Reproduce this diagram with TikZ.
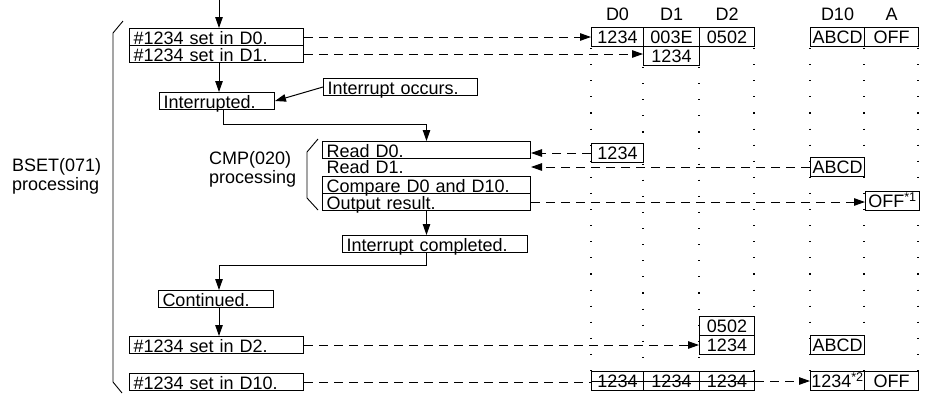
\documentclass[tikz,border=0pt]{standalone}
\usepackage{fontspec}
\setmainfont{Liberation Sans}
\usetikzlibrary{arrows.meta, positioning}

\begin{document}
\begin{tikzpicture}[
    x=1pt, y=-1pt,
    font=\fontsize{18}{19}\selectfont,
    >={Triangle[length=11pt, width=7.5pt]},
    stepbox/.style={draw, line width=1pt, anchor=north west, inner xsep=4pt, inner ysep=1pt, minimum height=17pt, text height=14pt, text depth=0pt, align=left, text width=#1},
    cell/.style={draw, line width=1pt, fill=white, anchor=north west, inner sep=0pt, minimum width=#1, minimum height=19pt, text height=13pt, text depth=0pt},
    cell/.default=52pt,
    hdr/.style={inner sep=0pt, text depth=0pt},
    side/.style={inner sep=0pt, anchor=west, align=left},
    arrow/.style={->, line width=1pt},
    link/.style={line width=1pt},
    darrow/.style={->, line width=1pt, dash pattern=on 9pt off 6pt},
    dline/.style={line width=1pt, dash pattern=on 9pt off 6pt},
    dotcol/.style={line width=1.1pt, dash pattern=on 1.1pt off 15pt},
    brace/.style={line width=0.9pt},
  ]
  \useasboundingbox (0,0) rectangle (926,394);

  % --- dotted memory columns ---
  \foreach \x/\y in {591/48, 643/67, 699/67, 754/48, 810/48, 864/48, 918/48}
    \draw[dotcol] (\x,\y) -- (\x,371);

  % --- BSET steps ---
  \node[stepbox=166pt] (set0) at (129,28) {\#1234 set in D0.};
  \node[stepbox=166pt] (set1) at (129,45) {\#1234 set in D1.};
  \node[stepbox=107pt] (intr) at (159,92) {Interrupted.};
  \node[stepbox=146pt] (ioc) at (323,78) {Interrupt occurs.};
  \node[stepbox=107pt] (cont) at (158,290) {Continued.};
  \node[stepbox=166pt] (set2) at (129,336) {\#1234 set in D2.};
  \node[stepbox=166pt] (set10) at (129,373) {\#1234 set in D10.};

  % --- CMP steps ---
  \node[stepbox=200pt] (rd0) at (322,141) {Read D0.};
  \node[stepbox=200pt, draw=none, minimum height=14pt] (rd1) at (322,158) {Read D1.};
  \node[stepbox=200pt] (cmpr) at (322,176) {Compare D0 and D10.};
  \node[stepbox=200pt] (out) at (322,193) {Output result.};
  \node[stepbox=177pt] (icomp) at (342,235) {Interrupt completed.};

  % --- side labels ---
  \node[side] (bset) at (12,176) {BSET(071)\\processing};
  \node[side] (cmp) at (209,169) {CMP(020)\\processing};
  \draw[brace] (123,21) -- (113,33) -- (113,382) -- (122,393);
  \draw[brace] (318,139) -- (307,152) -- (307,198) -- (318,210);

  % --- memory cells ---
  \node[cell] (c00) at (591,27) {1234};
  \node[cell=56pt] (c01) at (643,27) {003E};
  \node[cell=55pt] (c02) at (699,27) {0502};
  \node[cell=54pt] (c03) at (810,27) {ABCD};
  \node[cell=54pt] (c04) at (864,27) {OFF};
  \node[cell=56pt] (c11) at (643,46) {1234};
  \node[cell] (r0) at (591,143) {1234};
  \node[cell=54pt] (rabcd) at (810,157) {ABCD};
  \node[cell=54pt] (roff) at (865,191) {OFF\textsuperscript{*1}};
  \node[cell=55pt] (d2a) at (699,316) {0502};
  \node[cell=55pt] (d2b) at (699,335) {1234};
  \node[cell=54pt] (dabcd) at (810,335) {ABCD};
  \node[cell] (b0) at (591,371) {1234};
  \node[cell=56pt] (b1) at (643,371) {1234};
  \node[cell=55pt] (b2) at (699,371) {1234};
  \node[cell=54pt] (b3) at (810,371) {1234\textsuperscript{*2}};
  \node[cell=54pt] (b4) at (864,371) {OFF};

  % --- column headers ---
  \node[hdr, above=6pt of c00] {D0};
  \node[hdr, above=6pt of c01] {D1};
  \node[hdr, above=6pt of c02] {D2};
  \node[hdr, above=6pt of c03] {D10};
  \node[hdr, above=6pt of c04] {A};

  % --- program flow ---
  \coordinate (entry) at (219,0);
  \draw[arrow] (entry) -- (entry |- set0.north);
  \draw[arrow] (set1.south -| entry) -- (intr.north -| entry);
  \draw[arrow] (ioc.west) -- (intr.east);
  \draw[arrow] ([xshift=6pt]intr.south) -- ++(0,14) -| (rd0.north);
  \draw[arrow] (out.south) -- (out.south |- icomp.north);
  \draw[arrow] (icomp.south -| out.south) -- ++(0,12) -| (cont.north -| entry);
  \draw[arrow] (cont.south -| entry) -- (set2.north -| entry);

  % --- data transfers ---
  \draw[darrow] (set0.east) -- (c00.west);
  \draw[darrow] (set1.east) -- (set1.east -| c11.west);
  \draw[darrow] (r0.west) -- (r0.west -| rd0.east);
  \draw[darrow] (rabcd.west) -- (rabcd.west -| rd1.east);
  \draw[darrow] (out.east) -- (out.east -| roff.west);
  \draw[darrow] (set2.east) -- (set2.east -| d2b.west);
  \draw[dline] (set10.east) -- (set10.east -| b0.west);
  \draw[link] (b0.west) -- (b2.east);
  \draw[darrow] (b2.east) -- (b3.west);

\end{tikzpicture}
\end{document}
